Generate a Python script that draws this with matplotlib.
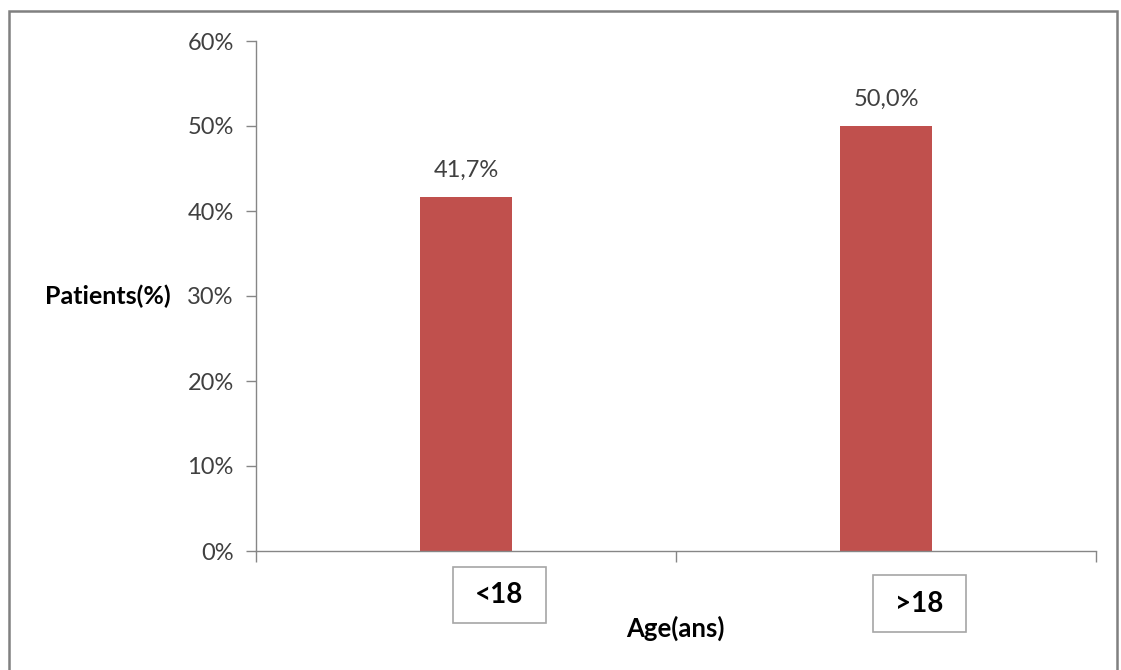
import matplotlib.pyplot as plt
from matplotlib.patches import Rectangle
import matplotlib.transforms as mtransforms
from matplotlib.ticker import PercentFormatter, FixedLocator, NullFormatter

# data
groups = ['<18', '>18']
patients_pct = [41.7, 50.0]
value_labels = ['41,7%', '50,0%']

bar_color = '#C0504D'
axis_grey = '#868686'
text_grey = '#404040'

plt.rcParams['font.family'] = ['Lato', 'DejaVu Sans']

fig = plt.figure(figsize=(11.21, 6.70), dpi=100)
ax = fig.add_axes([256 / 1121, 1 - 551 / 670, 840 / 1121, 510 / 670])

x = list(range(len(groups)))
bars = ax.bar(x, patients_pct, width=0.22, color=bar_color)

ax.set_xlim(-0.5, len(groups) - 0.5)
ax.set_ylim(0, 60)
ax.set_yticks(range(0, 61, 10))
ax.yaxis.set_major_formatter(PercentFormatter(decimals=0))
ax.tick_params(axis='y', direction='out', length=7, width=1, color=axis_grey,
               labelsize=17, labelcolor=text_grey, pad=9)

# category boundaries as tick marks, no labels on the axis itself
ax.xaxis.set_major_locator(FixedLocator([i - 0.5 for i in range(len(groups) + 1)]))
ax.xaxis.set_major_formatter(NullFormatter())
ax.tick_params(axis='x', direction='out', length=8, width=1, color=axis_grey)

for s in ['top', 'right']:
    ax.spines[s].set_visible(False)
for s in ['left', 'bottom']:
    ax.spines[s].set_color(axis_grey)
    ax.spines[s].set_linewidth(1)

# value labels above bars
for b, lab in zip(bars, value_labels):
    ax.annotate(lab, xy=(b.get_x() + b.get_width() / 2, b.get_height()),
                xytext=(0, 16), textcoords='offset pixels',
                ha='center', va='bottom', fontsize=17, color=text_grey)

# boxed category labels (offset to the right, as in the original)
trans = mtransforms.blended_transform_factory(ax.transData, ax.transAxes)
box_y = [(-0.141, -0.031), (-0.159, -0.047)]
for i, (g, (y0, y1)) in enumerate(zip(groups, box_y)):
    x0 = i - 0.031
    rect = Rectangle((x0, y0), 0.221, y1 - y0, transform=trans, clip_on=False,
                     facecolor='white', edgecolor='#A6A6A6', linewidth=1.2)
    ax.add_patch(rect)
    ax.text(x0 + 0.1105, (y0 + y1) / 2, g, transform=trans, ha='center', va='center',
            fontsize=20, fontweight='bold', color='black')

ax.set_xlabel('Age(ans)', fontsize=18.5, fontweight='bold', color='black', va='center')
ax.xaxis.set_label_coords(0.499, -0.151)
ax.set_ylabel('Patients(%)', fontsize=18, fontweight='bold', color='black',
              rotation=0, ha='center', va='center')
ax.yaxis.set_label_coords(-0.176, 0.5)

# outer frame of the chart area
fig.patches.append(Rectangle((8.5 / 1121, -0.05), (1117 - 8.5) / 1121, 1.05 - 11 / 670,
                             transform=fig.transFigure, fill=False,
                             edgecolor='#808080', linewidth=1.8))

fig.savefig('out.png', dpi=100)
